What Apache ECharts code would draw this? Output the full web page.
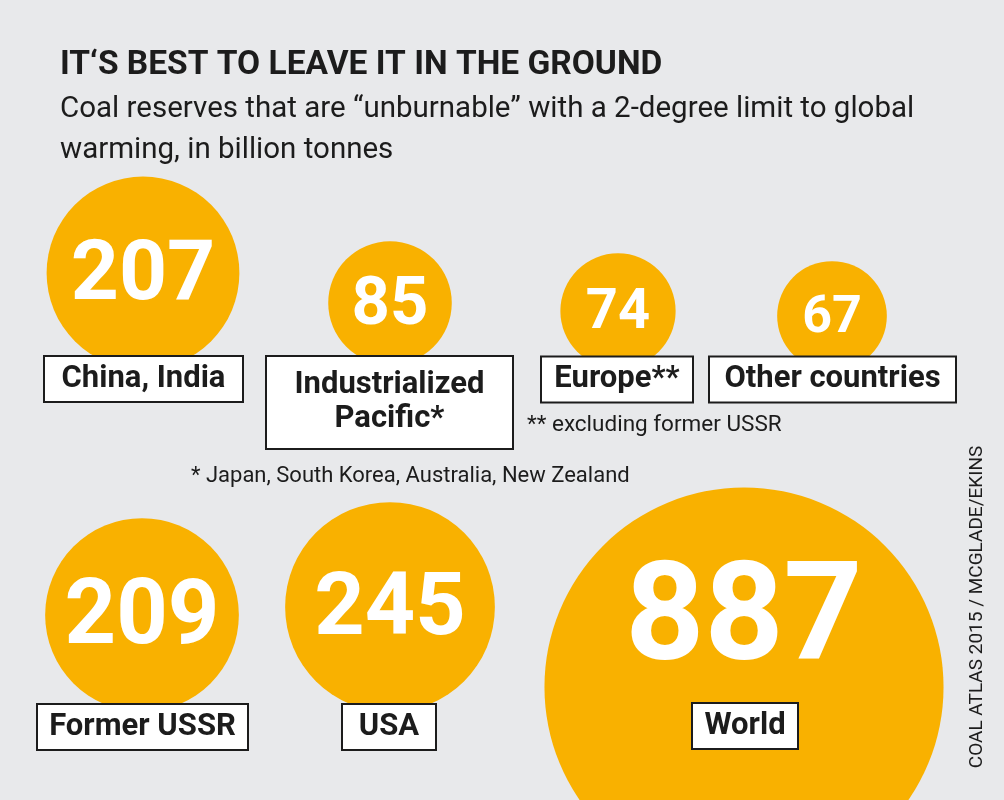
<!DOCTYPE html>
<html>
<head>
<meta charset="utf-8">
<style>
  html, body { margin: 0; padding: 0; background: #e8e9eb; }
  #main { width: 1004px; height: 800px; }
</style>
<script src="https://cdn.jsdelivr.net/npm/echarts@6/dist/echarts.min.js"></script>
</head>
<body>
<div id="main"></div>
<script>
// data
const regions = ['China, India', 'Industrialized\nPacific*', 'Europe**', 'Other countries', 'Former USSR', 'USA', 'World'];
const reserves = [207, 85, 74, 67, 209, 245, 887];

// layout (px on a 1004x800 canvas)
const bubbleCenters = [[143, 273], [390, 303], [618, 311], [832, 316], [142, 615], [390, 607], [744, 687]];
const numberFont = [84, 67, 56, 52, 90, 88, 138];
const numberOffset = [0, 0, 0, 0, 0, 0, -71];
const boxCenters = [[143.5, 379], [389.5, 402.5], [617, 379.5], [832.5, 379.5], [142.5, 727], [389, 727], [745, 726]];
const boxWidths = [197, 245, 150, 245, 209, 92, 104];

const orange = '#f9b100';
const ink = '#1c1c1c';
const font = "Roboto, 'Liberation Sans', sans-serif";

const myChart = echarts.init(document.getElementById('main'));

myChart.setOption({
  backgroundColor: '#e8e9eb',
  animation: false,
  grid: { left: 0, right: 0, top: 0, bottom: 0 },
  xAxis: { type: 'value', min: 0, max: 1004, show: false },
  yAxis: { type: 'value', min: 0, max: 800, inverse: true, show: false },
  graphic: [
    {
      type: 'text', left: 60, top: 49,
      style: { text: 'IT‘S BEST TO LEAVE IT IN THE GROUND', font: 'bold 33.5px ' + font, fill: ink }
    },
    {
      type: 'text', left: 60, top: 89,
      style: {
        text: 'Coal reserves that are “unburnable” with a 2-degree limit to global\nwarming, in billion tonnes',
        font: '29.5px ' + font, lineHeight: 41, fill: ink
      }
    },
    {
      type: 'text', left: 527, top: 414,
      style: { text: '** excluding former USSR', font: '22.5px ' + font, fill: ink }
    },
    {
      type: 'text', left: 191, top: 465,
      style: { text: '* Japan, South Korea, Australia, New Zealand', font: '22px ' + font, fill: ink }
    },
    {
      type: 'text', x: 977, y: 607, rotation: Math.PI / 2,
      style: { text: 'COAL ATLAS 2015 / MCGLADE/EKINS', font: '19px ' + font, fill: ink, align: 'center', verticalAlign: 'middle' }
    }
  ],
  series: [
    {
      name: 'reserves',
      type: 'scatter',
      symbol: 'circle',
      symbolSize: function (val) { return Math.sqrt(val[2]) * 13.4; },
      itemStyle: { color: orange, opacity: 1 },
      emphasis: { disabled: true },
      data: reserves.map(function (v, i) {
        return {
          value: [bubbleCenters[i][0], bubbleCenters[i][1], v],
          label: {
            show: true, position: 'inside', formatter: String(v),
            color: '#fff', fontWeight: 'bold', fontFamily: font,
            fontSize: numberFont[i],
            offset: [0, numberOffset[i] + numberFont[i] * 0.06]
          }
        };
      }),
      z: 2
    },
    {
      name: 'regions',
      type: 'scatter',
      symbolSize: 1,
      itemStyle: { color: 'rgba(0,0,0,0)', opacity: 1 },
      emphasis: { disabled: true },
      data: regions.map(function (r, i) {
        const twoLines = r.indexOf('\n') >= 0;
        return {
          value: [boxCenters[i][0], boxCenters[i][1]],
          label: {
            show: true, position: 'inside', formatter: r,
            color: ink, fontWeight: 'bold', fontFamily: font, fontSize: 31,
            width: boxWidths[i], align: 'center',
            lineHeight: twoLines ? 34 : 42,
            padding: twoLines ? [12, 0, 11, 0] : [2, 0, 0, 0],
            backgroundColor: '#fff', borderColor: ink, borderWidth: 2
          }
        };
      }),
      z: 3
    }
  ]
});
</script>
</body>
</html>
